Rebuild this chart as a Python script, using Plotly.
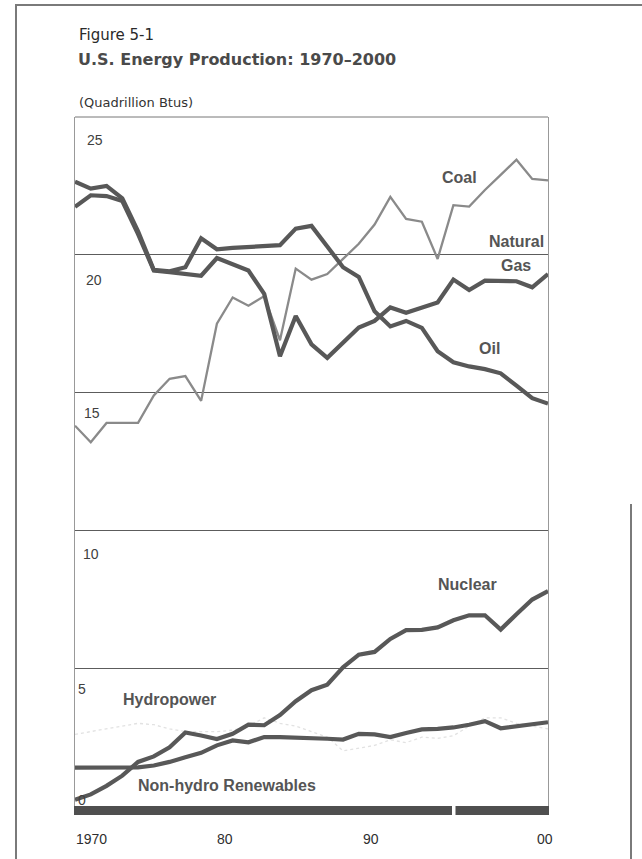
import plotly.graph_objects as go

# ---------------- data ----------------
years = list(range(1970, 2001))

coal = [13.8, 13.2, 13.9, 13.9, 13.9, 14.9, 15.5, 15.6, 14.7, 17.5,
        18.45, 18.15, 18.5, 16.9, 19.5, 19.1, 19.3, 19.85, 20.4, 21.1,
        22.1, 21.3, 21.2, 19.85, 21.8, 21.75, 22.35, 22.9, 23.45, 22.75, 22.7]

oil = [22.65, 22.4, 22.5, 22.05, 20.85, 19.45, 19.4, 19.55, 20.6, 20.2,
       20.25, 20.28, 20.3, 20.35, 20.95, 21.05, 20.3, 19.55, 19.2, 17.95,
       17.4, 17.6, 17.35, 16.5, 16.1, 15.95, 15.85, 15.7, 15.25, 14.8, 14.6]

natural_gas = [21.74, 22.16, 22.13, 21.95, 20.75, 19.43, 19.37, 19.3, 19.24, 19.88,
               19.67, 19.43, 18.58, 16.32, 17.78, 16.75, 16.26, 16.8, 17.36, 17.6,
               18.09, 17.9, 18.1, 18.27, 19.1, 18.72, 19.06, 19.05, 19.04, 18.82, 19.3]

nuclear = [0.23, 0.42, 0.73, 1.1, 1.6, 1.8, 2.13, 2.67, 2.56, 2.43,
           2.62, 2.95, 2.93, 3.3, 3.8, 4.2, 4.4, 5.03, 5.49, 5.59,
           6.06, 6.38, 6.39, 6.48, 6.74, 6.92, 6.92, 6.4, 6.96, 7.49, 7.8]

hydropower = [2.6, 2.7, 2.8, 2.9, 3.0, 2.95, 2.8, 2.7, 2.7, 2.7,
              2.75, 2.9, 3.2, 3.0, 2.9, 2.7, 2.5, 2.0, 2.1, 2.2,
              2.4, 2.3, 2.5, 2.45, 2.55, 2.9, 3.2, 3.2, 3.0, 2.9, 2.8]

non_hydro_renewables = [1.39, 1.39, 1.39, 1.39, 1.4, 1.47, 1.6, 1.77, 1.93, 2.2,
                        2.38, 2.31, 2.5, 2.5, 2.49, 2.48, 2.44, 2.41, 2.62, 2.6,
                        2.5, 2.65, 2.78, 2.8, 2.85, 2.95, 3.08, 2.82, 2.9, 2.97, 3.04]

y_tick_values = [25, 20, 15, 10, 5, 0]
y_tick_text = ["25", "20", "15", "10", "5", "0"]
x_tick_text = ["1970", "80", "90", "00"]

# ---------------- geometry helpers (layout only) ----------------
W, H = 642, 859
L, R, T, B = 75, 548, 117, 806


def px(x):
    return (x - L) / (R - L)


def py(y):
    return (B - y) / (B - T)


DARK = "#585858"
fig = go.Figure()

fig.add_trace(go.Scatter(x=years, y=hydropower, mode="lines", name="Hydropower",
                         line=dict(color="#e2e2e2", width=1.3, dash="dot")))
fig.add_trace(go.Scatter(x=years, y=coal, mode="lines", name="Coal",
                         line=dict(color="#8a8a8a", width=2.3)))
fig.add_trace(go.Scatter(x=years, y=natural_gas, mode="lines", name="Natural Gas",
                         line=dict(color=DARK, width=4.2)))
fig.add_trace(go.Scatter(x=years, y=oil, mode="lines", name="Oil",
                         line=dict(color=DARK, width=4.2)))
fig.add_trace(go.Scatter(x=years, y=non_hydro_renewables, mode="lines",
                         name="Non-hydro Renewables", line=dict(color=DARK, width=4.2)))
fig.add_trace(go.Scatter(x=years, y=nuclear, mode="lines", name="Nuclear",
                         line=dict(color=DARK, width=4.2)))

ann = []
# titles
ann.append(dict(text="Figure 5-1", x=px(77), y=py(35), xanchor="left", yanchor="middle",
                font=dict(family="DejaVu Sans", size=15, color="#2a2a2a")))
ann.append(dict(text="<b>U.S. Energy Production: 1970\u20132000</b>", x=px(76), y=py(59),
                xanchor="left", yanchor="middle",
                font=dict(family="DejaVu Sans", size=16, color="#4a4a4a")))
ann.append(dict(text="(Quadrillion Btus)", x=px(77), y=py(102), xanchor="left", yanchor="middle",
                font=dict(family="DejaVu Sans", size=13, color="#333333")))

# y labels placed inside the plot
ylab_pos = [(95, 140), (94, 280), (92, 413), (91, 554), (82, 689), (82, 800)]
for t, (cx, cy) in zip(y_tick_text, ylab_pos):
    ann.append(dict(text=t, x=px(cx), y=py(cy), xanchor="center", yanchor="middle",
                    font=dict(family="Liberation Sans", size=14, color="#404040")))

# x labels
xlab_pos = [91, 225, 371, 545]
for t, cx in zip(x_tick_text, xlab_pos):
    ann.append(dict(text=t, x=px(cx), y=py(839), xanchor="center", yanchor="middle",
                    font=dict(family="Liberation Sans", size=14, color="#2e2e2e")))

# series labels
series_labels = [("Coal", 459, 177), ("Natural", 516, 241), ("Gas", 516, 265),
                 ("Oil", 489, 348), ("Nuclear", 467, 584), ("Hydropower", 169, 699),
                 ("Non-hydro Renewables", 227, 785)]
for t, cx, cy in series_labels:
    ann.append(dict(text="<b>%s</b>" % t, x=px(cx), y=py(cy), xanchor="center", yanchor="middle",
                    font=dict(family="Liberation Sans", size=16, color="#555555")))

for a in ann:
    a.update(xref="paper", yref="paper", showarrow=False)

shapes = [
    # outer scan frame
    dict(type="line", xref="paper", yref="paper", x0=px(15), x1=px(642), y0=py(5), y1=py(5),
         line=dict(color="#7a7a7a", width=2)),
    dict(type="line", xref="paper", yref="paper", x0=px(16), x1=px(16), y0=py(5), y1=py(859),
         line=dict(color="#7a7a7a", width=2)),
    dict(type="line", xref="paper", yref="paper", x0=px(631), x1=px(631), y0=py(504), y1=py(859),
         line=dict(color="#7a7a7a", width=2)),
    # plot top border
    dict(type="line", xref="paper", yref="paper", x0=0, x1=1, y0=1, y1=1,
         line=dict(color="#777777", width=1)),
    # small gap in the bottom bar
    dict(type="rect", xref="paper", yref="paper", x0=px(452), x1=px(455.5), y0=py(805), y1=py(818),
         fillcolor="white", line=dict(width=0), layer="above"),
]

fig.update_layout(
    width=W, height=H, autosize=False,
    margin=dict(l=L, r=W - R, t=T, b=H - B, pad=0),
    paper_bgcolor="white", plot_bgcolor="white",
    showlegend=False,
    annotations=ann, shapes=shapes,
    xaxis=dict(range=[1970, 2000], showgrid=False, zeroline=False, showticklabels=False,
               ticks="", showline=True, linewidth=9, linecolor="#4f4f4f", fixedrange=True),
    yaxis=dict(range=[0, 25], tickvals=[5, 10, 15, 20], showgrid=True, gridcolor="#5c5c5c",
               gridwidth=1.2, zeroline=False, showticklabels=False, ticks="",
               showline=True, linewidth=1, linecolor="#999999", mirror=True, fixedrange=True),
)

fig.write_html("out.html", config={"displayModeBar": False},
               post_script="document.body.style.margin='0px';document.body.style.overflow='hidden';")
